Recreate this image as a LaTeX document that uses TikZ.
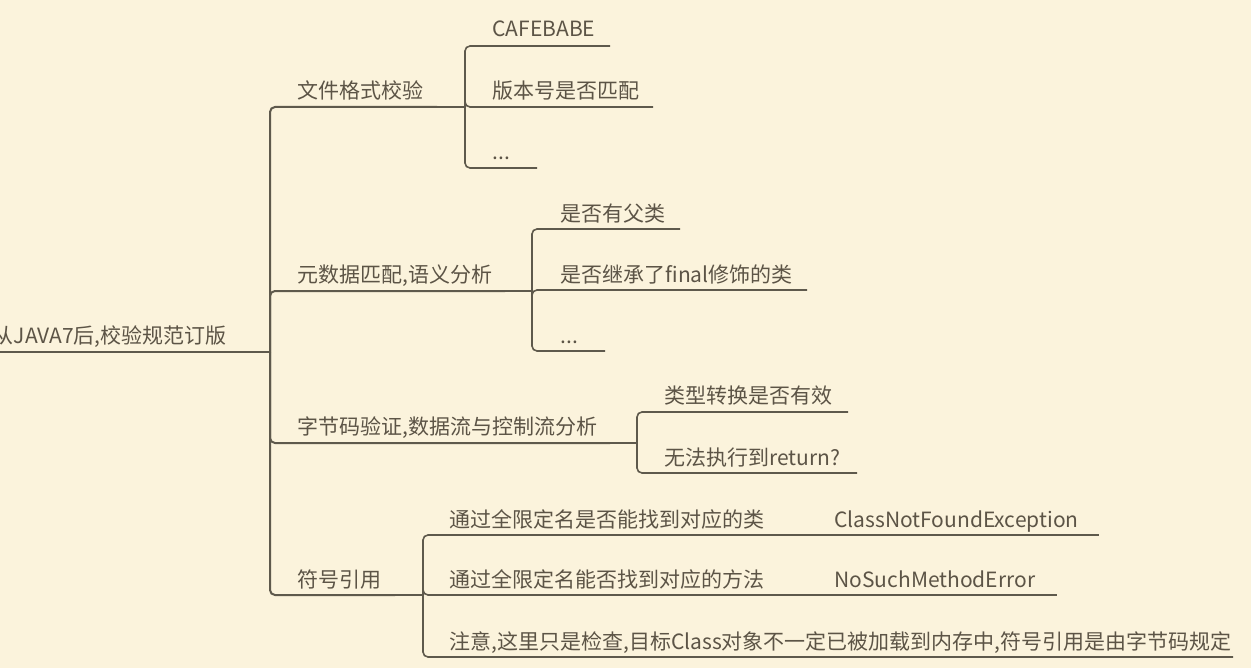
\documentclass[tikz,border=0pt]{standalone}
\usepackage{fontspec}
\setmainfont{Noto Sans CJK SC}
\definecolor{bg}{RGB}{251,243,220}
\definecolor{ln}{RGB}{94,89,76}
\definecolor{tx}{RGB}{92,84,70}
\begin{document}
\begin{tikzpicture}[x=0.5pt,y=-0.5pt,
  lbl/.style={anchor=base west, inner sep=0pt, text=tx, font=\fontsize{10.5}{12}\selectfont},
  mainln/.style={draw=ln, line width=1pt, rounded corners=2.5pt},
  subln/.style={draw=ln, line width=0.8pt, rounded corners=2.5pt}]
\fill[bg] (0,0) rectangle (1251,668);
\useasboundingbox (0,0) rectangle (1251,668);
% root
\node[lbl, anchor=base east] (root) at (227,343) {从JAVA7后,校验规范订版};
\coordinate (rootS) at (0,352);
\coordinate (j0) at (270,352);
% branches
\node[lbl] (b1) at (297,99) {文件格式校验};
\coordinate (b1e) at (437,107);
\node[lbl] (b2) at (297,282) {元数据匹配,语义分析};
\coordinate (b2e) at (505,291);
\node[lbl] (b3) at (297,434) {字节码验证,数据流与控制流分析};
\coordinate (b3e) at (610,443);
\node[lbl] (b4) at (297,587) {符号引用};
\coordinate (b4e) at (395,595);
% junctions
\coordinate (j1) at (465,107);
\coordinate (j2) at (532,291);
\coordinate (j3) at (637,443);
\coordinate (j4) at (423,595);
% children
\node[lbl] (c11) at (492,37) {CAFEBABE};
\coordinate (c11e) at (610,46);
\node[lbl] (c12) at (492,99) {版本号是否匹配};
\coordinate (c12e) at (653,107);
\node[lbl] (c13) at (492,160) {...};
\coordinate (c13e) at (537,168);
\node[lbl] (c21) at (560,221) {是否有父类};
\coordinate (c21e) at (680,229);
\node[lbl] (c22) at (560,282) {是否继承了final修饰的类};
\coordinate (c22e) at (807,290);
\node[lbl] (c23) at (560,343) {...};
\coordinate (c23e) at (605,351);
\node[lbl] (c31) at (664,403) {类型转换是否有效};
\coordinate (c31e) at (848,412);
\node[lbl] (c32) at (664,465) {无法执行到return?};
\coordinate (c32e) at (857,473);
\node[lbl] (c41) at (449,527) {通过全限定名是否能找到对应的类};
\coordinate (c41e) at (780,535);
\node[lbl] (d41) at (834,527) {ClassNotFoundException};
\coordinate (d41e) at (1099,535);
\node[lbl] (c42) at (449,587) {通过全限定名能否找到对应的方法};
\coordinate (c42e) at (780,595);
\node[lbl] (d42) at (834,587) {NoSuchMethodError};
\coordinate (d42e) at (1057,595);
\node[lbl] (c43) at (449,649) {注意,这里只是检查,目标Class对象不一定已被加载到内存中,符号引用是由字节码规定};
\coordinate (c43e) at (1233,657);
% connectors
\draw[mainln] (rootS) -- (j0);
\draw[mainln] (j0) |- (b1e);
\draw[mainln] (j0) |- (b2e);
\draw[mainln] (j0) |- (b3e);
\draw[mainln] (j0) |- (b4e);
\draw[mainln] (b1e) -- (j1);
\draw[mainln] (b2e) -- (j2);
\draw[mainln] (b3e) -- (j3);
\draw[mainln] (b4e) -- (j4);
\draw[subln] (j1) |- (c11e);
\draw[subln] (j1) |- (c12e);
\draw[subln] (j1) |- (c13e);
\draw[subln] (j2) |- (c21e);
\draw[subln] (j2) |- (c22e);
\draw[subln] (j2) |- (c23e);
\draw[subln] (j3) |- (c31e);
\draw[subln] (j3) |- (c32e);
\draw[subln] (j4) |- (c41e);
\draw[subln] (j4) |- (c42e);
\draw[subln] (j4) |- (c43e);
\draw[subln] (c41e) -- (d41e);
\draw[subln] (c42e) -- (d42e);
\end{tikzpicture}
\end{document}
